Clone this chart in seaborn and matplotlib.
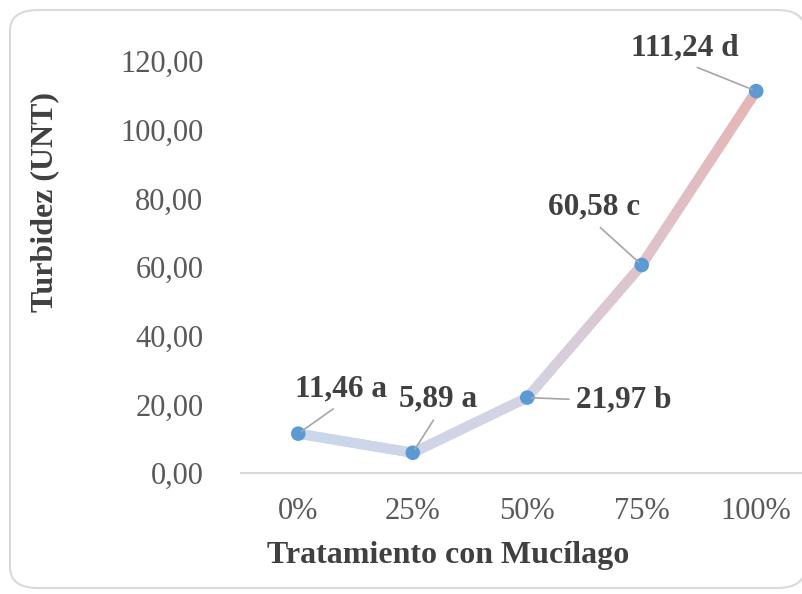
import numpy as np
import pandas as pd
import matplotlib
matplotlib.use("Agg")
import matplotlib.pyplot as plt
import seaborn as sns
from matplotlib.collections import LineCollection
from matplotlib.colors import LinearSegmentedColormap
from matplotlib.patches import FancyBboxPatch

# Data
tratamientos = ['0%', '25%', '50%', '75%', '100%']
turbidez = [11.46, 5.89, 21.97, 60.58, 111.24]
letras = ['a', 'a', 'b', 'c', 'd']
# label offsets from each point, in pixels
label_dx = [43, 25, 97, -48, -71]
label_dy = [45, 54, -2, 58, 43]

df = pd.DataFrame({'pos': range(len(tratamientos)), 'turbidez': turbidez})

sns.set_style("white")
plt.rcParams['font.family'] = ['Liberation Serif', 'DejaVu Serif']

fig = plt.figure(figsize=(8.02, 5.94), dpi=100)
ax = fig.add_axes([241 / 802, 121 / 594, 561 / 802, 412 / 594])

# rounded frame around the chart area
frame = FancyBboxPatch((10 / 802, 6 / 594), 795 / 802, 578 / 594,
                       boxstyle="round,pad=0,rounding_size=0.035",
                       transform=fig.transFigure, fc='white', ec='#d9d9d9',
                       lw=1.5, zorder=-10, clip_on=False)
fig.patches.append(frame)

# gradient line: split each segment into short pieces coloured by x
cmap = LinearSegmentedColormap.from_list('grad', ['#c8d7ec', '#d4d3e3', '#e6b5b5'])
xs, ys = [], []
for i in range(len(turbidez) - 1):
    t = np.linspace(0, 1, 40, endpoint=(i == len(turbidez) - 2))
    xs.extend(i + t)
    ys.extend(turbidez[i] + (turbidez[i + 1] - turbidez[i]) * t)
pts = np.column_stack([xs, ys]).reshape(-1, 1, 2)
segs = np.concatenate([pts[:-1], pts[1:]], axis=1)
lc = LineCollection(segs, colors=cmap(np.array(xs[:-1]) / (len(turbidez) - 1)),
                    linewidths=7.3, capstyle='round', joinstyle='round', zorder=2)
ax.add_collection(lc)

# markers
sns.scatterplot(data=df, x='pos', y='turbidez', ax=ax, color='#5b9bd5', s=110,
                edgecolor='none', zorder=3, clip_on=False, legend=False)

# data labels with leader lines (leader starts under the label, or at its
# left side for the label placed to the right of the point)
for i, (v, l) in enumerate(zip(turbidez, letras)):
    txt = f"{v:.2f}".replace('.', ',') + f" {l}"
    rel = (0.0, 0.5) if abs(label_dy[i]) < 10 else (0.5, 0.0)
    ax.annotate(txt, xy=(i, v), xytext=(label_dx[i], label_dy[i]),
                textcoords='offset pixels', ha='center', va='center',
                fontsize=22.5, fontweight='bold', color='#404040',
                annotation_clip=False,
                arrowprops=dict(arrowstyle='-', color='#a6a6a6', lw=1.2,
                                relpos=rel, shrinkA=3, shrinkB=3))

ax.set_xlim(-0.5, 4.4)
ax.set_ylim(0, 120)
ax.set_xticks(range(len(tratamientos)))
ax.set_xticklabels(tratamientos)
yt = np.arange(0, 121, 20)
ax.set_yticks(yt)
ax.set_yticklabels([f"{v:.2f}".replace('.', ',') for v in yt])
ax.tick_params(axis='both', length=0, labelsize=22, labelcolor='#595959')
ax.tick_params(axis='y', pad=27)
ax.tick_params(axis='x', pad=17)
ax.set_xlabel('')
ax.set_ylabel('')

for s in ['top', 'right', 'left']:
    ax.spines[s].set_visible(False)
ax.spines['bottom'].set_color('#d9d9d9')
ax.spines['bottom'].set_linewidth(1.5)

fig.text(448 / 802, 1 - 555 / 594, 'Tratamiento con Mucílago', ha='center',
         va='center', fontsize=23, fontweight='bold', color='#404040')
fig.text(45 / 802, 1 - 202 / 594, 'Turbidez (UNT)', ha='center', va='center',
         rotation=90, fontsize=23, fontweight='bold', color='#404040')

fig.savefig('out.png', dpi=100)
